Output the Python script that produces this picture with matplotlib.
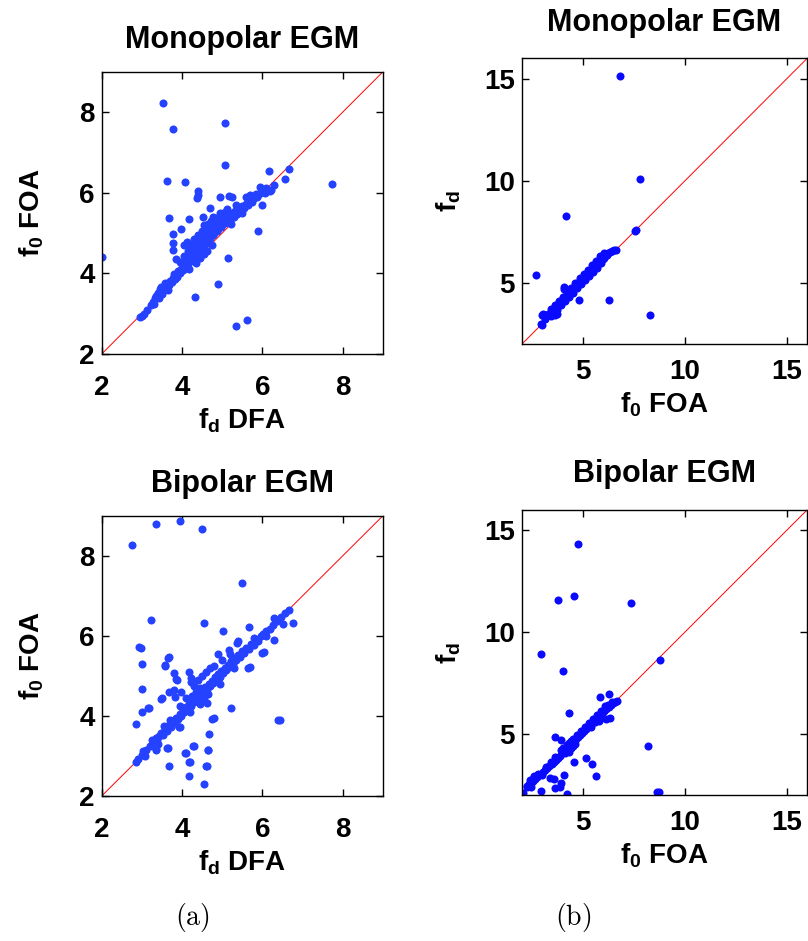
import numpy as np
import matplotlib
matplotlib.use('Agg')
from matplotlib import pyplot as plt

plt.rcParams['font.family'] = ['Liberation Sans', 'DejaVu Sans']
plt.rcParams['font.weight'] = 'bold'
plt.rcParams['mathtext.fontset'] = 'custom'
plt.rcParams['mathtext.rm'] = 'Liberation Sans:bold'
plt.rcParams['mathtext.it'] = 'Liberation Sans:bold'
plt.rcParams['mathtext.bf'] = 'Liberation Sans:bold'

# (a) top: monopolar, x = f_d DFA, y = f_0 FOA
mono_dfa = [
    (3.53, 8.22), (3.78, 7.58), (5.08, 7.74), (5.07, 6.69), (3.63, 6.28), (4.07, 6.26),
    (7.72, 6.22), (6.16, 6.53), (6.65, 6.59), (6.57, 6.35), (4.40, 6.05), (4.38, 5.86),
    (4.40, 5.94), (3.68, 5.38), (4.18, 5.35), (3.98, 5.09), (3.78, 4.98), (3.78, 4.76),
    (3.78, 4.58), (3.84, 4.36), (2.00, 4.40), (5.89, 5.04), (5.14, 4.38), (4.89, 3.74),
    (4.33, 3.42), (5.33, 2.70), (5.61, 2.85), (2.95, 2.91), (3.00, 2.93), (6.18, 6.04),
    (5.98, 5.70), (4.94, 5.90), (5.18, 5.92), (5.25, 5.90), (4.52, 5.40), (4.69, 5.61),
    (5.06, 5.53), (5.68, 5.94), (5.93, 6.15), (6.22, 6.06), (6.30, 6.20),
    (3.22, 3.22), (3.28, 3.30), (3.30, 3.25), (3.35, 3.45), (3.40, 3.52), (3.45, 3.60),
    (3.50, 3.58), (3.55, 3.65), (3.60, 3.62), (3.62, 3.72), (3.68, 3.70), (3.70, 3.80),
    (3.75, 3.78), (3.78, 3.88), (3.82, 3.85), (3.85, 3.95), (3.88, 3.92), (3.90, 4.05),
    (3.95, 4.00), (3.98, 4.12), (4.02, 4.08), (4.05, 4.18), (4.08, 4.15), (4.10, 4.28),
    (4.14, 4.22), (4.16, 4.35), (4.20, 4.30), (4.22, 4.45), (4.25, 4.38), (4.28, 4.52),
    (4.30, 4.42), (4.33, 4.58), (4.36, 4.48), (4.38, 4.65), (4.40, 4.55), (4.43, 4.72),
    (4.46, 4.60), (4.48, 4.80), (4.50, 4.66), (4.53, 4.85), (4.56, 4.72), (4.58, 4.90),
    (4.60, 4.78), (4.63, 4.95), (4.66, 4.84), (4.68, 5.02), (4.70, 4.88), (4.73, 5.08),
    (4.76, 4.94), (4.78, 5.12), (4.80, 5.00), (4.83, 5.18), (4.86, 5.05), (4.88, 5.22),
    (4.90, 5.10), (4.93, 5.28), (4.96, 5.15), (4.98, 5.32), (5.00, 5.20), (5.04, 5.36),
    (5.06, 5.24), (5.10, 5.40), (5.13, 5.30), (5.16, 5.45), (5.20, 5.35), (5.24, 5.50),
    (5.28, 5.40), (5.32, 5.55), (5.36, 5.48), (5.40, 5.60), (5.45, 5.55), (5.50, 5.66),
    (5.55, 5.62), (5.60, 5.72), (5.65, 5.70), (5.70, 5.80), (5.75, 5.76), (5.80, 5.86),
    (5.86, 5.90), (5.92, 5.96), (6.00, 6.02), (6.06, 6.00),
    (4.25, 4.72), (4.30, 4.85), (4.40, 4.95), (4.50, 5.05), (4.58, 5.15), (4.65, 5.22),
    (4.45, 4.38), (4.55, 4.48), (4.15, 4.55), (4.20, 4.65), (4.05, 4.42), (3.95, 4.28),
    (4.72, 5.30), (4.85, 5.38), (5.00, 5.46), (4.12, 4.78), (4.05, 4.70), (3.65, 3.58),
    (3.50, 3.48), (4.62, 4.55), (4.75, 4.70), (4.35, 4.25), (3.42, 3.40), (3.32, 3.40),
    (3.48, 3.66), (3.05, 2.98), (3.12, 3.08), (3.58, 3.75), (3.80, 3.98), (4.02, 4.28),
    (4.55, 5.20), (4.78, 5.40), (5.12, 5.60), (5.35, 5.70), (5.50, 5.50), (5.60, 5.90),
    (4.95, 5.50), (4.30, 4.30), (4.18, 4.12), (5.85, 5.96), (6.10, 6.12), (5.22, 5.22),
]

# (a) bottom: bipolar, x = f_d DFA, y = f_0 FOA
bip_dfa = [
    (3.35, 8.80), (3.94, 8.86), (4.50, 8.68), (2.75, 8.26), (5.50, 7.32), (3.23, 6.40),
    (4.54, 6.33), (6.65, 6.65), (6.77, 6.33), (6.50, 6.29), (6.28, 6.44), (5.03, 6.11),
    (5.67, 6.21), (2.94, 5.72), (2.98, 5.70), (3.68, 5.47), (3.00, 5.30), (3.58, 5.26),
    (3.81, 5.07), (3.88, 4.90), (4.18, 5.09), (4.21, 4.94), (3.00, 4.68), (3.48, 4.42),
    (3.67, 4.60), (3.79, 4.65), (3.98, 4.60), (3.00, 4.09), (3.18, 4.19), (2.85, 3.79),
    (5.21, 4.19), (6.43, 3.90), (5.69, 5.21), (6.03, 5.59), (6.30, 5.90), (5.40, 5.86),
    (4.89, 5.55), (4.63, 4.32), (4.79, 3.94), (4.67, 3.55), (4.64, 3.15), (4.61, 2.75),
    (4.54, 2.30), (4.17, 2.49), (4.19, 2.84), (4.11, 3.08), (4.29, 3.25), (3.67, 2.76),
    (3.65, 3.20), (3.36, 3.17), (3.94, 3.73), (3.08, 3.00), (3.04, 3.13), (2.85, 2.84),
    (3.38, 3.40), (5.17, 5.64), (5.37, 5.83), (5.99, 5.58), (5.64, 5.19), (3.65, 5.45),
    (3.57, 5.24), (3.86, 4.93), (4.23, 4.85), (3.82, 4.46), (3.49, 4.44), (3.16, 4.20),
    (6.38, 3.89), (4.75, 3.93), (4.27, 3.24), (4.65, 3.14), (4.07, 3.08), (4.17, 2.85),
    (4.59, 2.74), (3.63, 3.20), (3.35, 3.14), (3.93, 3.73),
    (2.90, 2.92), (3.00, 3.02), (3.10, 3.15), (3.20, 3.25), (3.28, 3.35), (3.35, 3.45),
    (3.42, 3.50), (3.48, 3.58), (3.52, 3.52), (3.58, 3.68), (3.62, 3.62), (3.68, 3.78),
    (3.72, 3.72), (3.78, 3.88), (3.82, 3.82), (3.86, 3.96), (3.90, 3.92), (3.94, 4.05),
    (3.98, 4.00), (4.02, 4.14), (4.06, 4.10), (4.10, 4.22), (4.14, 4.18), (4.18, 4.30),
    (4.22, 4.26), (4.26, 4.40), (4.30, 4.34), (4.34, 4.48), (4.38, 4.42), (4.42, 4.56),
    (4.46, 4.50), (4.50, 4.64), (4.54, 4.58), (4.58, 4.72), (4.62, 4.66), (4.66, 4.80),
    (4.70, 4.74), (4.74, 4.88), (4.78, 4.82), (4.82, 4.96), (4.86, 4.90), (4.90, 5.04),
    (4.94, 4.98), (4.98, 5.12), (5.02, 5.06), (5.06, 5.20), (5.10, 5.14), (5.14, 5.28),
    (5.18, 5.22), (5.22, 5.36), (5.26, 5.30), (5.30, 5.44), (5.35, 5.40), (5.40, 5.52),
    (5.45, 5.48), (5.50, 5.62), (5.55, 5.56), (5.60, 5.70), (5.66, 5.66), (5.72, 5.80),
    (5.78, 5.76), (5.84, 5.90), (5.90, 5.88), (5.96, 6.00), (6.02, 6.04), (6.10, 6.12),
    (6.18, 6.16), (6.26, 6.28), (6.35, 6.36), (6.45, 6.46), (6.55, 6.56),
    (4.30, 4.75), (4.40, 4.90), (4.50, 5.00), (4.45, 4.70), (4.60, 5.10), (4.70, 5.20),
    (4.35, 4.60), (4.25, 4.50), (4.55, 4.45), (4.65, 4.55), (4.20, 4.10), (4.45, 4.30),
    (4.80, 5.25), (5.00, 5.40), (5.20, 5.55), (4.10, 4.45), (3.95, 4.25), (4.95, 4.80),
    (5.30, 5.20), (3.70, 3.90), (3.55, 3.75), (3.40, 3.30), (3.25, 3.40), (5.80, 5.95),
    (6.10, 6.00),
]

# (b) top: monopolar, x = f_0 FOA, y = f_d
mono_foa = [
    (6.79, 15.16), (7.79, 10.10), (4.18, 8.27), (7.61, 7.57), (7.55, 7.55), (2.70, 5.38),
    (4.04, 4.71), (4.08, 4.80), (4.80, 4.18), (6.27, 4.18), (8.28, 3.40), (2.96, 2.91),
    (2.93, 3.00), (3.01, 3.45), (3.05, 3.40),
    (3.00, 3.42), (3.20, 3.40), (3.40, 3.38), (3.60, 3.40), (3.70, 3.45),
    (3.10, 3.38), (3.18, 3.40), (3.25, 3.42), (3.32, 3.45), (3.38, 3.52), (3.45, 3.58),
    (3.50, 3.62), (3.56, 3.70), (3.62, 3.75), (3.68, 3.82), (3.74, 3.88), (3.80, 3.95),
    (3.86, 4.02), (3.92, 4.08), (3.98, 4.15), (4.04, 4.20), (4.10, 4.28), (4.16, 4.34),
    (4.22, 4.40), (4.28, 4.46), (4.34, 4.52), (4.40, 4.58), (4.46, 4.64), (4.52, 4.70),
    (4.58, 4.78), (4.64, 4.84), (4.70, 4.90), (4.76, 4.98), (4.82, 5.04), (4.88, 5.10),
    (4.94, 5.16), (5.00, 5.22), (5.06, 5.28), (5.12, 5.34), (5.18, 5.40), (5.24, 5.46),
    (5.30, 5.52), (5.36, 5.58), (5.42, 5.64), (5.48, 5.70), (5.54, 5.76), (5.60, 5.82),
    (5.66, 5.88), (5.72, 5.94), (5.78, 6.00), (5.84, 6.06), (5.90, 6.12), (5.96, 6.18),
    (6.02, 6.24), (6.08, 6.30), (6.16, 6.38), (6.24, 6.44), (6.32, 6.50), (6.42, 6.56),
    (6.52, 6.60), (6.62, 6.62),
    (3.50, 3.45), (3.70, 3.65), (3.90, 3.90), (4.10, 4.10), (4.30, 4.30), (4.50, 4.52),
    (4.70, 4.75), (4.90, 4.95), (5.10, 5.15), (5.30, 5.35), (5.50, 5.55), (5.70, 5.75),
    (5.90, 5.95), (4.40, 4.75), (4.60, 4.98), (4.85, 5.25), (5.05, 5.45), (5.25, 5.62),
    (5.45, 5.85), (5.65, 6.05), (5.85, 6.30), (6.05, 6.45), (3.40, 3.70), (3.60, 3.90),
    (3.80, 4.12), (4.00, 4.32), (4.20, 4.55), (3.25, 3.35), (3.15, 3.25),
]

# (b) bottom: bipolar, x = f_0 FOA, y = f_d
bip_foa = [
    (4.76, 14.35), (3.79, 11.57), (4.53, 11.78), (7.33, 11.45), (2.93, 8.92), (4.02, 8.10),
    (8.80, 8.63), (4.31, 6.01), (5.82, 6.80), (6.27, 6.96), (3.63, 4.84), (3.91, 4.71),
    (8.20, 4.43), (4.53, 3.64), (5.16, 3.81), (5.42, 3.53), (5.65, 2.91), (2.67, 2.91),
    (2.58, 2.95), (3.55, 2.79), (4.07, 2.96), (3.94, 2.58), (3.86, 2.39), (2.93, 2.19),
    (4.20, 2.06), (8.72, 2.17), (8.61, 2.17), (2.46, 2.39), (3.62, 2.33), (3.37, 2.82),
    (2.23, 2.41), (2.07, 2.12), (6.15, 5.75), (6.30, 5.78),
    (2.25, 2.45), (2.35, 2.55), (2.45, 2.62), (2.55, 2.70), (2.65, 2.78), (2.75, 2.88),
    (2.85, 2.96), (2.95, 3.05), (3.05, 3.15), (3.15, 3.24), (3.25, 3.34), (3.35, 3.44),
    (3.45, 3.54), (3.55, 3.64), (3.65, 3.74), (3.75, 3.84), (3.85, 3.94), (3.95, 4.04),
    (4.05, 4.14), (4.15, 4.24), (4.25, 4.34), (4.35, 4.44), (4.45, 4.54), (4.55, 4.64),
    (4.65, 4.74), (4.75, 4.84), (4.85, 4.94), (4.95, 5.04), (5.05, 5.14), (5.15, 5.24),
    (5.25, 5.34), (5.35, 5.44), (5.45, 5.54), (5.55, 5.64), (5.65, 5.74), (5.75, 5.84),
    (5.85, 5.94), (5.95, 6.04), (6.05, 6.14), (6.15, 6.24), (6.25, 6.34), (6.35, 6.42),
    (6.45, 6.50), (6.55, 6.58), (6.65, 6.64),
    (3.90, 4.20), (4.00, 4.10), (4.10, 4.05), (4.20, 4.20), (4.30, 4.10), (4.40, 4.30),
    (4.50, 4.40), (4.60, 4.50), (4.20, 4.45), (4.30, 4.55), (4.40, 4.65), (4.50, 4.75),
    (4.00, 4.30), (4.70, 4.95), (4.90, 5.15), (5.10, 5.35), (5.30, 5.55), (5.50, 5.75),
    (5.70, 5.95), (5.90, 6.15), (6.10, 6.35), (5.60, 5.60), (5.80, 5.75), (5.40, 5.35),
    (3.40, 3.60), (3.60, 3.85), (3.20, 3.40), (2.80, 3.05), (2.60, 2.90), (2.40, 2.75),
    (2.50, 2.65), (3.00, 3.00), (6.20, 6.40), (6.40, 6.55), (5.80, 5.65),
]

titles = ['Monopolar EGM', 'Monopolar EGM', 'Bipolar EGM', 'Bipolar EGM']
xlabels = ['f$_d$ DFA', 'f$_0$ FOA', 'f$_d$ DFA', 'f$_0$ FOA']
ylabels = ['f$_0$ FOA', 'f$_d$', 'f$_0$ FOA', 'f$_d$']
captions = ['(a)', '(b)']

fig = plt.figure(figsize=(8.08, 9.41), dpi=100)
W, H = 808, 941

def px_axes(left, top, right, bottom):
    return fig.add_axes([left / W, 1 - bottom / H, (right - left) / W, (bottom - top) / H])

panels = [
    dict(box=(101.7, 71.7, 383, 354), data=mono_dfa, lim=(2, 9), ticks=[2, 4, 6, 8],
         color='#2442ff', title_pad=17, xpad=15, ylpad=24),
    dict(box=(522, 58.5, 807, 344), data=mono_foa, lim=(2, 16), ticks=[5, 10, 15],
         color='#0a0aff', title_pad=20, xpad=11, ylpad=15),
    dict(box=(101.7, 515.7, 383, 796), data=bip_dfa, lim=(2, 9), ticks=[2, 4, 6, 8],
         color='#2442ff', title_pad=17, xpad=15, ylpad=24),
    dict(box=(522, 510, 807, 795), data=bip_foa, lim=(2, 16), ticks=[5, 10, 15],
         color='#0a0aff', title_pad=20, xpad=11, ylpad=15),
]

for i, p in enumerate(panels):
    ax = px_axes(*p['box'])
    pts = np.array(p['data'])
    lo, hi = p['lim']
    ax.plot([lo, hi], [lo, hi], color='red', lw=0.7, zorder=1)
    ax.plot(pts[:, 0], pts[:, 1], 'o', ms=5.8, mew=0, color=p['color'], zorder=2)
    ax.set_xlim(lo, hi)
    ax.set_ylim(lo, hi)
    ax.set_xticks(p['ticks'])
    ax.set_yticks(p['ticks'])
    ax.tick_params(direction='in', top=True, right=True, length=5, width=1,
                   labelsize=20)
    ax.tick_params(axis='x', pad=p['xpad'])
    ax.tick_params(axis='y', pad=5)
    for s in ax.spines.values():
        s.set_linewidth(1)
    ax.set_title(titles[i], fontsize=22, fontweight='bold', pad=p['title_pad'])
    ax.set_xlabel(xlabels[i], fontsize=20, fontweight='bold', labelpad=4)
    ax.set_ylabel(ylabels[i], fontsize=20, fontweight='bold', labelpad=p['ylpad'])

fig.text(192 / W, 1 - 918 / H, r'$\mathrm{' + captions[0] + '}$', math_fontfamily='cm',
         fontsize=20, ha='center', va='center')
fig.text(573 / W, 1 - 918 / H, r'$\mathrm{' + captions[1] + '}$', math_fontfamily='cm',
         fontsize=20, ha='center', va='center')

fig.savefig('out.png', dpi=100)
